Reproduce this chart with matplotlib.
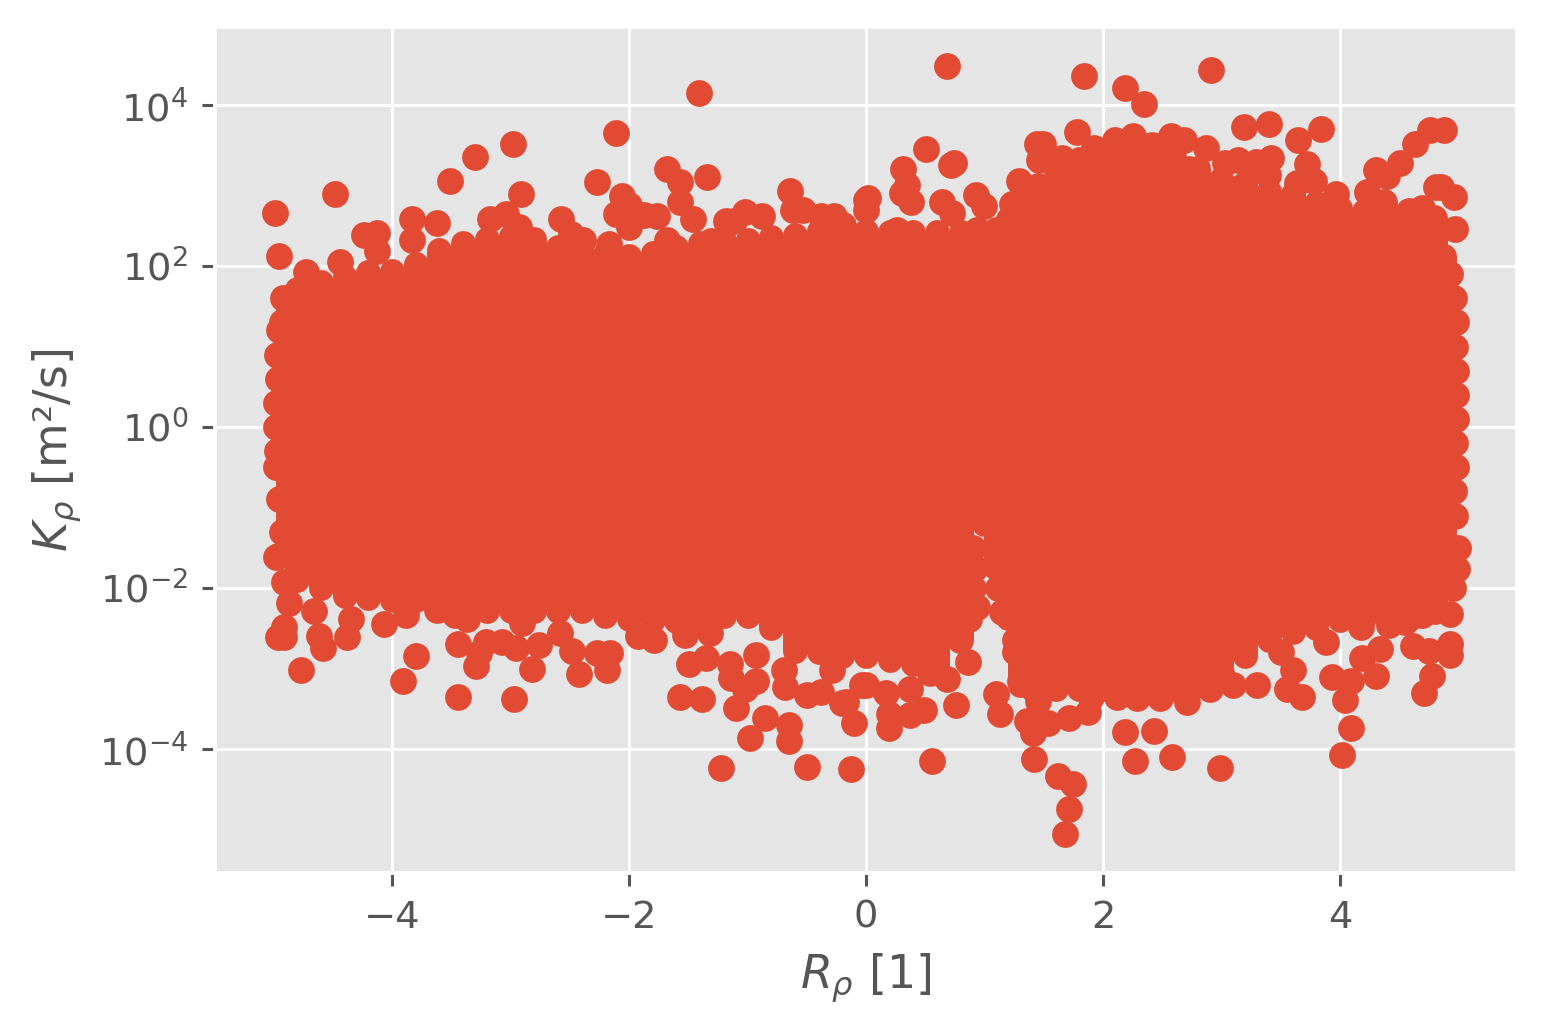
import matplotlib
matplotlib.use('Agg')
import matplotlib.pyplot as plt
import numpy as np

plt.style.use('ggplot')

# solid part of the cloud: for each R_rho column the range of log10(K_rho) it covers
cloud_x = [-4.88, -4.8, -4.6, -4.4, -4.2, -4.0, -3.8, -3.6, -3.4, -3.2, -3.0, -2.8, -2.6, -2.4, -2.2,
           -2.0, -1.8, -1.6, -1.4, -1.2, -1.0, -0.8, -0.6, -0.4, -0.2, 0.0, 0.2, 0.4, 0.6, 0.8,
           1.0, 1.1, 1.2, 1.3, 1.4, 1.6, 1.8, 2.0, 2.2, 2.4, 2.6, 2.8, 3.0, 3.2, 3.4, 3.6, 3.8,
           4.0, 4.2, 4.4, 4.6, 4.8, 4.88]
cloud_high = [1.55, 1.72, 1.8, 1.86, 1.92, 1.94, 2.02, 2.2, 2.28, 2.33, 2.37, 2.33, 2.23, 2.18, 2.15,
              2.12, 2.16, 2.24, 2.28, 2.32, 2.32, 2.36, 2.38, 2.43, 2.45, 2.44, 2.42, 2.42, 2.42, 2.42,
              2.42, 2.46, 2.58, 2.75, 2.9, 3.12, 3.33, 3.4, 3.42, 3.42, 3.35, 3.22, 3.08, 3.03, 2.93, 2.9, 2.78,
              2.72, 2.68, 2.68, 2.66, 2.54, 2.12]
cloud_low = [-1.55, -1.9, -2.0, -2.1, -2.12, -2.15, -2.15, -2.21, -2.25, -2.29, -2.29, -2.29, -2.29, -2.29, -2.35,
             -2.38, -2.4, -2.41, -2.4, -2.35, -2.35, -2.5, -2.78, -2.8, -2.85, -2.85, -2.9, -2.95, -2.95, -2.6,
             -1.2, -1.75, -2.37, -3.2, -3.25, -3.25, -3.25, -3.25, -3.25, -3.25, -3.25, -3.2, -2.96, -2.85, -2.65, -2.55, -2.5,
             -2.4, -2.37, -2.37, -2.37, -2.3, -1.9]

# points that make up the bumpy left and right edges of the cloud
edge_left = [(-4.92, 1.6), (-4.93, 1.3), (-4.95, 1.2), (-4.97, 0.9), (-4.96, 0.6), (-4.98, 0.3),
             (-4.98, 0.0), (-4.97, -0.3), (-4.98, -0.5), (-4.95, -0.9), (-4.93, -1.3), (-4.96, -1.6)]
edge_right = [(4.93, 1.9), (4.96, 1.6), (4.98, 1.3), (4.97, 1.0), (4.98, 0.7), (4.98, 0.4),
              (4.98, 0.1), (4.97, -0.2), (4.98, -0.5), (4.96, -0.8), (4.97, -1.1), (4.95, -1.5)]

# points along the notch near R_rho = 1 and the lower rim of the right part
edge_notch = [(0.9, -1.5), (0.92, -1.75), (0.9, -2.0), (1.10, -1.5), (1.12, -1.75), (1.11, -2.0),
              (1.15, -2.3), (1.26, -2.65), (1.26, -2.8), (1.32, -2.94), (1.30, -3.15),
              (1.45, -3.4), (1.9, -3.35), (2.85, -3.1), (2.9, -3.25), (3.0, -3.05)]

# single points sticking out above the cloud (R_rho, log10 K_rho)
upper_left = [(-4.99, 2.655), (-4.95, 2.12), (-4.48, 2.89), (-4.24, 2.38), (-4.13, 2.41), (-4.13, 2.19),
              (-4.44, 2.05), (-4.73, 1.92), (-3.51, 3.05), (-3.30, 3.36), (-2.98, 3.52), (-2.91, 2.90),
              (-3.83, 2.59), (-3.62, 2.54), (-3.83, 2.32), (-3.17, 2.58), (-3.04, 2.64), (-2.93, 2.49),
              (-2.57, 2.58), (-2.49, 2.40), (-2.39, 2.32), (-2.17, 2.27), (-2.11, 3.65), (-2.27, 3.04),
              (-2.06, 2.87), (-2.00, 2.76), (-2.11, 2.65), (-2.00, 2.48), (-1.87, 2.63), (-1.76, 2.62),
              (-1.68, 3.20), (-1.57, 3.04), (-1.34, 3.11), (-1.57, 2.80), (-1.46, 2.59), (-1.68, 2.32),
              (-1.31, 2.31), (-1.41, 4.15), (-1.18, 2.56), (-1.11, 2.56), (-1.02, 2.67), (-0.88, 2.62),
              (-0.64, 2.93), (-0.62, 2.69), (-0.53, 2.70), (-0.38, 2.62), (-0.27, 2.62), (-0.19, 2.51),
              (0.0, 2.82), (0.0, 2.70)]
upper_right = [(0.68, 4.48), (1.84, 4.36), (2.19, 4.21), (2.35, 4.01), (2.91, 4.44), (0.51, 3.45),
               (0.31, 3.21), (0.72, 3.25), (0.74, 3.28), (0.35, 3.01), (0.30, 2.91), (0.38, 2.80),
               (0.64, 2.79), (0.02, 2.85), (0.93, 2.88), (1.00, 2.75), (0.94, 2.45), (0.73, 2.66),
               (0.26, 2.45), (1.29, 3.06), (1.23, 2.77), (1.45, 3.0), (1.46, 3.32), (1.44, 3.52),
               (1.49, 3.52), (1.78, 3.66), (1.65, 3.34), (1.92, 3.46), (2.10, 3.57), (2.25, 3.61),
               (2.41, 3.50), (2.57, 3.62), (2.68, 3.56), (2.51, 3.47), (2.87, 3.47), (2.50, 3.16),
               (2.73, 3.20), (3.03, 3.28), (3.14, 3.32), (3.29, 3.29), (3.42, 3.34), (3.39, 3.13),
               (3.19, 3.73), (3.40, 3.77), (3.65, 3.56), (3.84, 3.70), (3.72, 3.27), (3.78, 3.05),
               (3.64, 3.03), (3.15, 2.97), (3.97, 2.90), (4.23, 2.92), (4.30, 3.19), (4.40, 3.12),
               (4.51, 3.28), (4.63, 3.52), (4.76, 3.69), (4.88, 3.69), (4.81, 2.98), (4.85, 2.98),
               (4.96, 2.86), (4.37, 2.80), (4.58, 2.68), (4.69, 2.72), (4.79, 2.60), (4.97, 2.46)]

# single points hanging below the cloud
lower_left = [(-4.91, -1.92), (-4.87, -2.19), (-4.91, -2.48), (-4.96, -2.61), (-4.91, -2.61), (-4.98, -1.61),
              (-4.66, -2.29), (-4.62, -2.60), (-4.58, -2.75), (-4.38, -2.61), (-4.35, -2.38), (-4.77, -3.02),
              (-4.07, -2.45), (-3.88, -2.34), (-3.62, -2.27), (-3.47, -2.34), (-3.37, -2.38), (-3.80, -2.85),
              (-3.91, -3.15), (-3.44, -2.69), (-3.21, -2.67), (-3.27, -2.81), (-3.29, -2.97), (-3.44, -3.35),
              (-2.97, -3.38), (-3.07, -2.67), (-2.95, -2.74), (-2.76, -2.71), (-2.82, -3.01), (-2.58, -2.56),
              (-2.48, -2.78), (-2.42, -3.07), (-2.19, -3.02), (-2.27, -2.81), (-2.16, -2.81), (-2.90, -2.44),
              (-1.92, -2.60), (-1.79, -2.65), (-1.53, -2.58), (-1.32, -2.56), (-1.49, -2.94), (-1.35, -2.87),
              (-1.57, -3.35), (-1.38, -3.38), (-1.10, -3.49), (-1.15, -2.94), (-1.14, -3.12), (-1.02, -3.25),
              (-0.93, -3.15), (-0.93, -2.83), (-0.85, -3.62), (-0.98, -3.86), (-0.65, -3.70), (-0.65, -3.90),
              (-1.22, -4.23), (-0.50, -4.22), (-0.13, -4.25), (-0.69, -3.02), (-0.68, -3.23), (-0.50, -3.33),
              (-0.38, -3.29), (-0.20, -3.43), (-0.10, -3.68), (-0.17, -3.41), (-0.03, -3.20), (-0.29, -3.02)]
lower_right = [(0.56, -4.15), (0.19, -3.74), (0.19, -3.56), (0.17, -3.31), (0.37, -3.58), (0.49, -3.52),
               (0.76, -3.45), (0.37, -3.25), (0.68, -3.13), (0.54, -3.06), (0.86, -2.92), (0.79, -2.65),
               (0.87, -2.38), (0.94, -2.23), (0.0, -3.2), (1.10, -3.32), (1.13, -3.56), (1.36, -3.65),
               (1.41, -3.80), (1.54, -3.68), (1.71, -3.62), (1.87, -3.54), (1.42, -4.12), (1.62, -4.34),
               (1.75, -4.43), (1.71, -4.74), (1.68, -5.06), (2.19, -3.79), (2.43, -3.78), (2.27, -4.15),
               (2.58, -4.10), (2.99, -4.23), (2.12, -3.35), (2.29, -3.37), (2.48, -3.37), (2.71, -3.42),
               (3.10, -3.20), (3.30, -3.20), (3.55, -3.26), (3.68, -3.35), (3.60, -3.02), (3.50, -2.79),
               (3.88, -2.67), (3.93, -3.10), (4.09, -3.16), (4.04, -3.39), (4.09, -3.74), (4.02, -4.08),
               (4.19, -2.87), (4.34, -2.76), (4.30, -3.09), (4.18, -2.48), (4.41, -2.46), (4.62, -2.72),
               (4.75, -2.78), (4.93, -2.69), (4.93, -2.83), (4.78, -3.09), (4.71, -3.30), (4.55, -2.42),
               (4.69, -2.34), (4.93, -2.32), (4.95, -2.0), (4.99, -1.76), (5.0, -1.5)]

dpi = 276
fig = plt.figure(figsize=(1544 / dpi, 1035 / dpi), dpi=dpi)
ax = fig.add_axes([215 / 1544, 1 - 873 / 1035, 1302 / 1544, 846 / 1035])
color = '#E24A33'

points = np.array(edge_left + edge_right + edge_notch + upper_left + upper_right + lower_left + lower_right)
ax.scatter(points[:, 0], 10.0 ** points[:, 1], s=42, color=color, zorder=3)
ax.vlines(cloud_x, 10.0 ** np.array(cloud_low), 10.0 ** np.array(cloud_high),
          color=color, linewidth=6.5, capstyle='round', zorder=3)

ax.set_yscale('log')
ax.set_xlim(-5.494, 5.494)
ax.set_ylim(10.0 ** -5.54, 10.0 ** 4.969)
ax.set_xlabel(r'$R_\rho$ [1]')
ax.set_ylabel(r'$K_\rho$ [m²/s]')

fig.savefig('out.png', dpi=dpi)
